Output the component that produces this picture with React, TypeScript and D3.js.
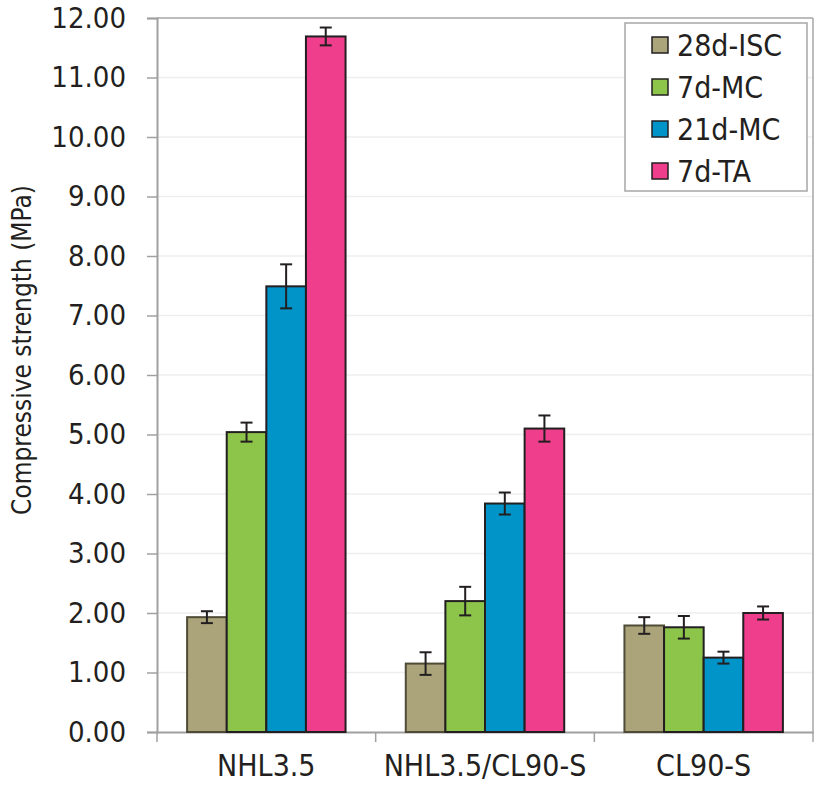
import React, { useEffect, useRef } from "react";
import * as d3 from "d3";

const categories = ["NHL3.5", "NHL3.5/CL90-S", "CL90-S"];
const seriesNames = ["28d-ISC", "7d-MC", "21d-MC", "7d-TA"];
const seriesColors = ["#aba47b", "#8dc54b", "#0094c9", "#ee3e8c"];
const seriesStrokes = ["#4f4b36", "#231f20", "#231f20", "#231f20"];
const values = [
  [1.93, 5.04, 7.49, 11.69],
  [1.15, 2.20, 3.84, 5.10],
  [1.79, 1.76, 1.25, 2.00],
];
const errors = [
  [0.10, 0.16, 0.37, 0.15],
  [0.19, 0.24, 0.185, 0.22],
  [0.14, 0.19, 0.10, 0.11],
];
const yTicks = [0, 1, 2, 3, 4, 5, 6, 7, 8, 9, 10, 11, 12];
const yLabel = "Compressive strength (MPa)";

const W = 816;
const H = 787;
const FONT = "'DejaVu Sans Condensed', 'DejaVu Sans', sans-serif";

export default function App() {
  const ref = useRef<SVGSVGElement>(null);

  useEffect(() => {
    document.body.style.margin = "0";
    const svg = d3.select(ref.current);
    svg.selectAll("*").remove();

    const left = 157, right = 813, top = 18, bottom = 732;
    const x = d3.scaleBand<string>().domain(categories).range([left, right]).padding(0);
    const xi = d3.scaleBand<string>().domain(seriesNames).range([0, x.bandwidth()]).paddingInner(0).paddingOuter(0.76);
    const y = d3.scaleLinear().domain([0, 12]).range([bottom, top]);

    // grid
    svg.append("g").selectAll("line").data(yTicks.filter(t => t > 0 && t < 12)).join("line")
      .attr("x1", left).attr("x2", right)
      .attr("y1", d => y(d)).attr("y2", d => y(d))
      .attr("stroke", "#eeeeee").attr("stroke-width", 1.5);

    // frame top + right
    svg.append("line").attr("x1", left).attr("x2", right).attr("y1", top).attr("y2", top)
      .attr("stroke", "#a6a6a6").attr("stroke-width", 1.5);
    svg.append("line").attr("x1", right).attr("x2", right).attr("y1", top).attr("y2", bottom + 10)
      .attr("stroke", "#a6a6a6").attr("stroke-width", 1.5);

    // y axis
    const yAxis = svg.append("g").attr("transform", `translate(${left},0)`)
      .call(d3.axisLeft(y).tickValues(yTicks).tickFormat(d3.format(".2f")).tickSize(10).tickPadding(21));
    yAxis.select(".domain").attr("stroke", "#a0a0a0").attr("stroke-width", 2);
    yAxis.selectAll(".tick line").attr("stroke", "#a0a0a0").attr("stroke-width", 1.5);
    yAxis.selectAll(".tick text").attr("fill", "#231f20").style("font-family", FONT).style("font-size", "29px");

    // x axis
    const xAxis = svg.append("g").attr("transform", `translate(0,${bottom})`)
      .call(d3.axisBottom(x).tickSize(0).tickPadding(23));
    xAxis.select(".domain").attr("stroke", "#a0a0a0").attr("stroke-width", 2);
    xAxis.selectAll(".tick text").attr("fill", "#231f20").style("font-family", FONT).style("font-size", "30px");
    svg.append("g").selectAll("line").data(categories).join("line")
      .attr("x1", d => x(d)!).attr("x2", d => x(d)!)
      .attr("y1", bottom).attr("y2", bottom + 10)
      .attr("stroke", "#a0a0a0").attr("stroke-width", 1.5);

    // bars
    categories.forEach((c, ci) => {
      const g = svg.append("g").attr("transform", `translate(${x(c)},0)`);
      seriesNames.forEach((s, si) => {
        const v = values[ci][si];
        g.append("rect")
          .attr("x", xi(s)!).attr("y", y(v))
          .attr("width", xi.bandwidth()).attr("height", y(0) - y(v))
          .attr("fill", seriesColors[si]).attr("stroke", seriesStrokes[si]).attr("stroke-width", 2);
      });
      seriesNames.forEach((s, si) => {
        const v = values[ci][si];
        const e = errors[ci][si];
        const cx = xi(s)! + xi.bandwidth() / 2;
        const eg = g.append("g").attr("stroke", "#231f20").attr("stroke-width", 2);
        eg.append("line").attr("x1", cx).attr("x2", cx).attr("y1", y(v + e)).attr("y2", y(v - e));
        eg.append("line").attr("x1", cx - 6).attr("x2", cx + 6).attr("y1", y(v + e)).attr("y2", y(v + e));
        eg.append("line").attr("x1", cx - 6).attr("x2", cx + 6).attr("y1", y(v - e)).attr("y2", y(v - e));
      });
    });

    // y label
    svg.append("text")
      .attr("transform", `translate(31,350) rotate(-90)`)
      .attr("text-anchor", "middle")
      .attr("fill", "#231f20")
      .style("font-family", FONT).style("font-size", "26px")
      .text(yLabel);

    // legend
    const lg = svg.append("g");
    lg.append("rect").attr("x", 625).attr("y", 23).attr("width", 182).attr("height", 168)
      .attr("fill", "#fff").attr("stroke", "#a6a6a6").attr("stroke-width", 1.5);
    seriesNames.forEach((s, i) => {
      const cy = 45 + i * 42;
      lg.append("rect").attr("x", 652).attr("y", cy - 8).attr("width", 16).attr("height", 16)
        .attr("fill", seriesColors[i]).attr("stroke", "#231f20").attr("stroke-width", 1.5);
      lg.append("text").attr("x", 677).attr("y", cy).attr("dy", "0.36em")
        .attr("fill", "#231f20")
        .style("font-family", FONT).style("font-size", "30px")
        .text(s);
    });
  }, []);

  return <svg ref={ref} width={W} height={H} style={{ display: "block" }} />;
}
